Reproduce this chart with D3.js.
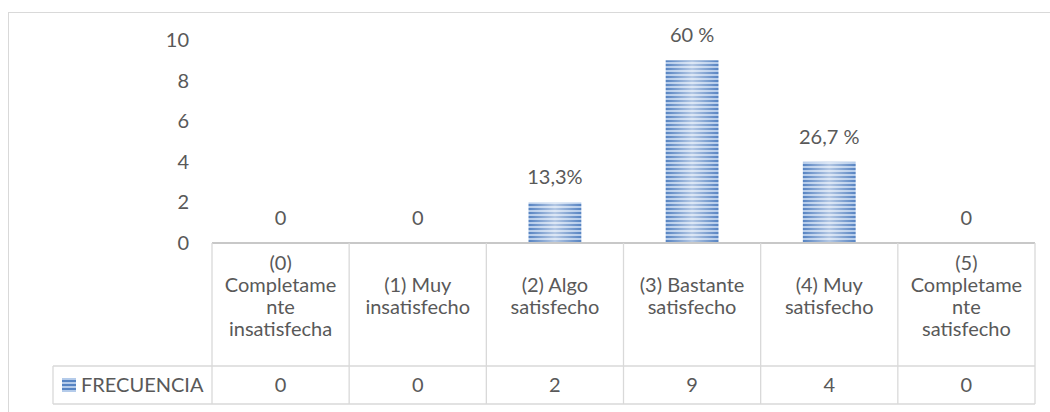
<!DOCTYPE html>
<html lang="es">
<head>
<meta charset="UTF-8">
<title>Frecuencia de satisfacción</title>
<style>
  body { margin: 0; background: #fff; }
  svg text { font-family: Lato, "Open Sans", sans-serif; fill: #595959; }
</style>
</head>
<body>
<svg id="svg" width="1050" height="412"></svg>
<script src="https://d3js.org/d3.v7.min.js"></script>
<script>
  // categories, as they appear in the data table (lines already wrapped like in the original)
  const categories = [
    "(0) Completamente insatisfecha",
    "(1) Muy insatisfecho",
    "(2) Algo satisfecho",
    "(3) Bastante satisfecho",
    "(4) Muy satisfecho",
    "(5) Completamente satisfecho"
  ]
  const categoryLines = [
    ["(0)", "Completame", "nte", "insatisfecha"],
    ["(1) Muy", "insatisfecho"],
    ["(2) Algo", "satisfecho"],
    ["(3) Bastante", "satisfecho"],
    ["(4) Muy", "satisfecho"],
    ["(5)", "Completame", "nte", "satisfecho"]
  ]
  const frecuencia = [0, 0, 2, 9, 4, 0]
  const dataLabels = ["0", "0", "13,3%", "60 %", "26,7 %", "0"]
  const yTicks = [0, 2, 4, 6, 8, 10]
  const seriesName = "FRECUENCIA"

  const svg = d3.select('#svg')
  const grid = '#d9d9d9'
  const fs = '20px'

  // outer chart border (runs past the right and bottom edges)
  svg.append('rect')
    .attr('x', 8.5).attr('y', 12.5)
    .attr('width', 1100).attr('height', 500)
    .attr('fill', 'none').attr('stroke', grid)

  // striped fill like the office "narrow horizontal" pattern
  const defs = svg.append('defs')
  const grad = defs.append('linearGradient').attr('id', 'shine')
  grad.append('stop').attr('offset', '0%').attr('stop-color', '#fff').attr('stop-opacity', 0)
  grad.append('stop').attr('offset', '50%').attr('stop-color', '#fff').attr('stop-opacity', 0.55)
  grad.append('stop').attr('offset', '100%').attr('stop-color', '#fff').attr('stop-opacity', 0)

  const pat = defs.append('pattern')
    .attr('id', 'stripes')
    .attr('patternUnits', 'userSpaceOnUse')
    .attr('width', 2000).attr('height', 4)
  pat.append('rect').attr('width', 2000).attr('height', 4).attr('fill', '#b4cbea')
  pat.append('rect').attr('width', 2000).attr('height', 2).attr('fill', '#5683c2')

  const x = d3.scaleBand()
    .domain(categories)
    .range([212, 1035])

  const y = d3.scaleLinear()
    .domain([0, 10])
    .range([243, 40])

  // y axis: labels only
  const yAxis = svg.append('g')
    .attr('transform', 'translate(212,0)')
    .call(d3.axisLeft(y).tickValues(yTicks).tickSize(0).tickPadding(23))
  yAxis.select('.domain').remove()
  yAxis.selectAll('text')
    .style('font-size', fs)
    .attr('fill', '#595959')
    .attr('font-family', 'Lato, "Open Sans", sans-serif')

  const barW = x.bandwidth() * 0.385

  // bars
  const bars = svg.append('g')
    .selectAll('g')
    .data(categories)
    .join('g')
  bars.append('rect')
    .attr('x', d => x(d) + (x.bandwidth() - barW) / 2)
    .attr('y', (d, i) => y(frecuencia[i]))
    .attr('width', barW)
    .attr('height', (d, i) => y(0) - y(frecuencia[i]))
    .attr('fill', 'url(#stripes)')
  bars.append('rect')
    .attr('x', d => x(d) + (x.bandwidth() - barW) / 2)
    .attr('y', (d, i) => y(frecuencia[i]))
    .attr('width', barW)
    .attr('height', (d, i) => y(0) - y(frecuencia[i]))
    .attr('fill', 'url(#shine)')

  // data labels
  svg.append('g')
    .selectAll('text')
    .data(categories)
    .join('text')
    .attr('x', d => x(d) + x.bandwidth() / 2)
    .attr('y', (d, i) => y(frecuencia[i]) - 18)
    .attr('text-anchor', 'middle')
    .style('font-size', fs)
    .text((d, i) => dataLabels[i])

  // data table
  const rowTop = y(0), rowMid = 366, rowBot = 404, legendLeft = 53
  const tbl = svg.append('g')
  const line = (x1, y1, x2, y2) => tbl.append('line')
    .attr('x1', x1).attr('y1', y1).attr('x2', x2).attr('y2', y2)
    .attr('stroke', grid).attr('stroke-width', 1.3)

  line(212, rowTop, 1035, rowTop).attr('stroke', '#c8c8c8').attr('stroke-width', 2)
  line(legendLeft, rowMid, 1035, rowMid)
  line(legendLeft, rowBot, 1035, rowBot)
  line(legendLeft, rowMid, legendLeft, rowBot)
  categories.forEach(c => line(x(c), rowTop, x(c), rowBot))
  line(1035, rowTop, 1035, rowBot)

  // header cells
  tbl.selectAll('text.cat')
    .data(categories)
    .join('text')
    .attr('class', 'cat')
    .attr('text-anchor', 'middle')
    .style('font-size', fs)
    .each(function (d, i) {
      const lines = categoryLines[i]
      const c0 = 296 - (lines.length - 1) * 11
      d3.select(this).selectAll('tspan')
        .data(lines)
        .join('tspan')
        .attr('x', x(d) + x.bandwidth() / 2)
        .attr('y', (l, j) => c0 + j * 22 + 7)
        .text(l => l)
    })

  // value row
  tbl.selectAll('text.val')
    .data(categories)
    .join('text')
    .attr('class', 'val')
    .attr('x', d => x(d) + x.bandwidth() / 2)
    .attr('y', 392)
    .attr('text-anchor', 'middle')
    .style('font-size', fs)
    .text((d, i) => frecuencia[i])

  // legend key + series name
  tbl.append('rect')
    .attr('x', 62).attr('y', 378).attr('width', 14).attr('height', 14)
    .attr('fill', 'url(#stripes)')
  tbl.append('text')
    .attr('x', 81).attr('y', 392)
    .style('font-size', fs)
    .text(seriesName)
</script>
</body>
</html>
